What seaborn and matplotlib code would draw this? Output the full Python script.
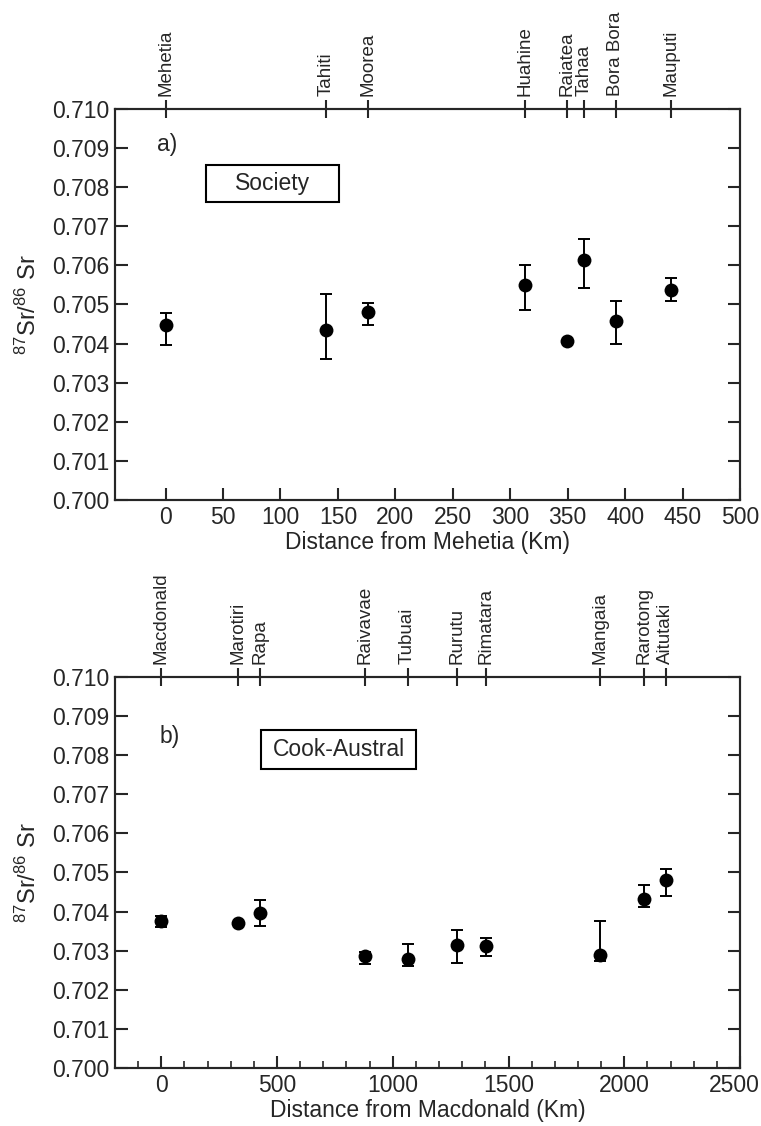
import numpy as np
import matplotlib
matplotlib.use("Agg")
import matplotlib.pyplot as plt
from matplotlib.ticker import MultipleLocator, FormatStrFormatter
from matplotlib.patches import Rectangle
import matplotlib.transforms as mtransforms
import seaborn as sns
import pandas as pd

# ---- data: Society ----
islands_soc = ['Mehetia', 'Tahiti', 'Moorea', 'Huahine', 'Raiatea', 'Tahaa', 'Bora Bora', 'Mauputi']
dist_soc = [0, 140, 176, 313, 349, 364, 392, 440]
sr_soc = [0.70448, 0.70436, 0.70481, 0.70550, 0.70406, 0.70615, 0.70459, 0.70537]
hi_soc = [0.70477, 0.70527, 0.70505, 0.70600, 0.70406, 0.70668, 0.70508, 0.70567]
lo_soc = [0.70396, 0.70361, 0.70447, 0.70486, 0.70406, 0.70541, 0.70400, 0.70509]

# ---- data: Cook-Austral ----
islands_ca = ['Macdonald', 'Marotiri', 'Rapa', 'Raivavae', 'Tubuai', 'Rurutu', 'Rimatara',
              'Mangaia', 'Rarotong', 'Aitutaki']
dist_ca = [0, 333, 428, 878, 1064, 1276, 1401, 1894, 2085, 2180]
sr_ca = [0.70375, 0.70370, 0.70397, 0.70287, 0.70280, 0.70315, 0.70313, 0.70288, 0.70433, 0.70481]
hi_ca = [0.70389, 0.70370, 0.70430, 0.70297, 0.70318, 0.70354, 0.70332, 0.70376, 0.70468, 0.70508]
lo_ca = [0.70361, 0.70370, 0.70364, 0.70266, 0.70260, 0.70268, 0.70287, 0.70274, 0.70412, 0.70441]

sns.set_style("ticks")
plt.rcParams['font.family'] = ['Liberation Sans', 'DejaVu Sans']
plt.rcParams['mathtext.fontset'] = 'custom'
plt.rcParams['mathtext.rm'] = 'Liberation Sans'
plt.rcParams['mathtext.it'] = 'Liberation Sans:italic'
plt.rcParams['mathtext.bf'] = 'Liberation Sans:bold'
plt.rcParams['axes.linewidth'] = 1.5

fig = plt.figure(figsize=(7.61, 11.26), dpi=100)
W, H = 761, 1126


def make_panel(rect, names, dist, sr, lo, hi, xlim, xmajor, xminor, xlabel, tag, tagpos,
               boxtext, boxrect, top_major):
    ax = fig.add_axes(rect)
    df = pd.DataFrame({'d': dist, 'sr': sr})
    sr_a = np.array(sr)
    yerr = np.vstack([sr_a - np.array(lo), np.array(hi) - sr_a])
    ax.errorbar(dist, sr, yerr=yerr, fmt='none', ecolor='black', elinewidth=1.4,
                capsize=4.3, capthick=1.4, zorder=2)
    sns.scatterplot(data=df, x='d', y='sr', ax=ax, color='black', s=100,
                    edgecolor='black', linewidth=0, zorder=3, legend=False)
    ax.set_xlim(*xlim)
    ax.set_ylim(0.700, 0.710)
    ax.xaxis.set_major_locator(MultipleLocator(xmajor))
    if xminor:
        ax.xaxis.set_minor_locator(MultipleLocator(xminor))
    ax.yaxis.set_major_locator(MultipleLocator(0.001))
    ax.yaxis.set_major_formatter(FormatStrFormatter('%.3f'))
    ax.tick_params(axis='both', which='major', direction='in', length=9, width=1.5,
                   labelsize=16.5, right=True, top=top_major, pad=4)
    ax.tick_params(axis='x', which='minor', direction='in', length=5, width=1.2,
                   bottom=True, top=False)
    ax.set_xlabel(xlabel, fontsize=16.5, labelpad=2)
    ax.set_ylabel(r'$^{87}$Sr/$^{86}$ Sr', fontsize=17, labelpad=8)
    for s in ax.spines.values():
        s.set_linewidth(1.5)
    ax.text(tagpos[0], tagpos[1], tag, transform=ax.transAxes, fontsize=16.5,
            ha='center', va='center')
    ax.add_patch(Rectangle((boxrect[0], boxrect[1]), boxrect[2], boxrect[3],
                           transform=ax.transAxes, fill=False, edgecolor='black',
                           linewidth=1.5, zorder=4))
    ax.text(boxrect[0] + boxrect[2] / 2, boxrect[1] + boxrect[3] / 2, boxtext,
            transform=ax.transAxes, fontsize=16.5, ha='center', va='center')
    ax2 = ax.twiny()
    ax2.set_xlim(*xlim)
    ax2.set_xticks(dist)
    ax2.set_xticklabels(names, rotation=90, fontsize=13.5)
    ax2.tick_params(axis='x', direction='inout', length=13, width=1.5, pad=3)
    ax2.xaxis.set_minor_locator(plt.NullLocator())
    for s in ax2.spines.values():
        s.set_linewidth(1.5)
    return ax


# top panel: axes from x=115..740, y=109..500 px
ax_a = make_panel([115 / W, 1 - 500 / H, 625 / W, 391 / H], islands_soc, dist_soc, sr_soc,
                  lo_soc, hi_soc, (-44, 500), 50, None, 'Distance from Mehetia (Km)', 'a)',
                  (0.083, 0.908), 'Society', (0.1456, 0.762, 0.2128, 0.0946), False)

# bottom panel: axes from x=115..740, y=677..1068 px
ax_b = make_panel([115 / W, 1 - 1068 / H, 625 / W, 391 / H], islands_ca, dist_ca, sr_ca,
                  lo_ca, hi_ca, (-200, 2500), 500, 100, 'Distance from Macdonald (Km)', 'b)',
                  (0.088, 0.849), 'Cook-Austral', (0.2336, 0.765, 0.248, 0.0997), True)

# keep the last bottom tick label ("2500") inside the figure edge
fig.canvas.draw()
shift = mtransforms.ScaledTranslation(-6 / 100, 0, fig.dpi_scale_trans)
for lab in ax_b.get_xticklabels():
    if lab.get_text() == '2500':
        lab.set_transform(lab.get_transform() + shift)

fig.savefig('out.png', dpi=100)
